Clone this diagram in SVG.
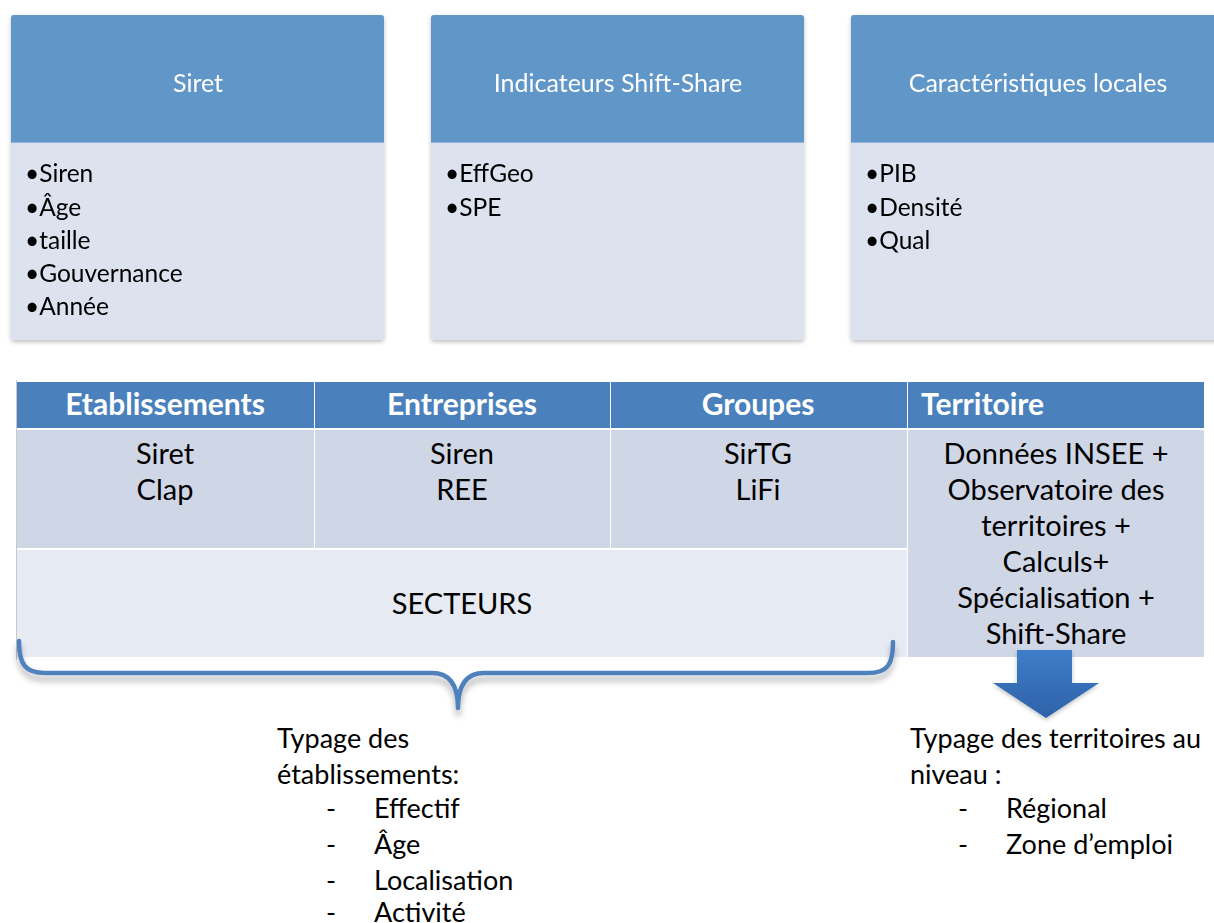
<svg xmlns="http://www.w3.org/2000/svg" width="1214" height="923" viewBox="0 0 1214 923">
<defs>
<style>
.hdr{fill:#6096C8}
.body{fill:#DCE2EE}
.ht{font-family:Lato,"Open Sans",sans-serif;font-size:25px;fill:#ffffff;text-anchor:middle}
.bl{font-family:Lato,"Open Sans",sans-serif;font-size:24.5px;fill:#000000}
.th{fill:#4A81BD}
.td{fill:#CFD7E7}
.ts{fill:#E6EAF3}
.tht{font-family:Lato,"Open Sans",sans-serif;font-size:30px;font-weight:bold;fill:#ffffff;text-anchor:middle}
.tdt{font-family:Lato,"Open Sans",sans-serif;font-size:29px;fill:#000000;text-anchor:middle}
.tx{font-family:Lato,"Open Sans",sans-serif;font-size:27px;fill:#000000}
</style>
<filter id="sh" x="-10%" y="-10%" width="120%" height="130%">
<feGaussianBlur in="SourceAlpha" stdDeviation="2"/>
<feOffset dx="0" dy="2"/>
<feComponentTransfer><feFuncA type="linear" slope="0.25"/></feComponentTransfer>
<feMerge><feMergeNode/><feMergeNode in="SourceGraphic"/></feMerge>
</filter>
<filter id="bsh" x="-5%" y="-50%" width="110%" height="250%">
<feGaussianBlur in="SourceAlpha" stdDeviation="3"/>
<feOffset dx="0" dy="6"/>
<feComponentTransfer><feFuncA type="linear" slope="0.3"/></feComponentTransfer>
<feMerge><feMergeNode/><feMergeNode in="SourceGraphic"/></feMerge>
</filter>
<linearGradient id="ag" x1="0" y1="0" x2="0" y2="1">
<stop offset="0" stop-color="#3F7DC9"/>
<stop offset="1" stop-color="#2E62A8"/>
</linearGradient>
</defs>
<rect width="1214" height="923" fill="#ffffff"/>

<g id="box-siret" filter="url(#sh)">
<rect class="body" x="11" y="15" width="373" height="325" rx="3"/>
<path class="hdr" d="M14,15 H381 A3,3 0 0 1 384,18 V142 H11 V18 A3,3 0 0 1 14,15 Z"/>
<line x1="11" y1="142.5" x2="384" y2="142.5" stroke="#8FB3DB" stroke-width="1"/>
<text class="ht" x="198" y="92">Siret</text>
<text class="bl" x="25" y="182">•Siren</text>
<text class="bl" x="25" y="216">•Âge</text>
<text class="bl" x="25" y="249">•taille</text>
<text class="bl" x="25" y="282">•Gouvernance</text>
<text class="bl" x="25" y="315">•Année</text>
</g>

<g id="box-shiftshare" filter="url(#sh)">
<rect class="body" x="431" y="15" width="373" height="325" rx="3"/>
<path class="hdr" d="M434,15 H801 A3,3 0 0 1 804,18 V142 H431 V18 A3,3 0 0 1 434,15 Z"/>
<line x1="431" y1="142.5" x2="804" y2="142.5" stroke="#8FB3DB" stroke-width="1"/>
<text class="ht" x="618" y="92">Indicateurs Shift-Share</text>
<text class="bl" x="445" y="182">•EffGeo</text>
<text class="bl" x="445" y="216">•SPE</text>
</g>

<g id="box-locales" filter="url(#sh)">
<rect class="body" x="851" y="15" width="370" height="325" rx="3"/>
<path class="hdr" d="M854,15 H1221 V142 H851 V18 A3,3 0 0 1 854,15 Z"/>
<line x1="851" y1="142.5" x2="1214" y2="142.5" stroke="#8FB3DB" stroke-width="1"/>
<text class="ht" x="1038" y="92">Caractéristiques locales</text>
<text class="bl" x="865" y="182">•PIB</text>
<text class="bl" x="865" y="216">•Densité</text>
<text class="bl" x="865" y="249">•Qual</text>
</g>

<g id="table">
<line x1="16.5" y1="380" x2="16.5" y2="660" stroke="#C8C8C8" stroke-width="1"/>
<g id="col-etablissements">
<rect class="th" x="17" y="382" width="297" height="46"/>
<rect class="td" x="17" y="430" width="297" height="118"/>
<text class="tht" x="165" y="415">Etablissements</text>
<text class="tdt" x="165" y="464">Siret</text>
<text class="tdt" x="165" y="500">Clap</text>
</g>
<g id="col-entreprises">
<rect class="th" x="315" y="382" width="295" height="46"/>
<rect class="td" x="315" y="430" width="295" height="118"/>
<text class="tht" x="462" y="415">Entreprises</text>
<text class="tdt" x="462" y="464">Siren</text>
<text class="tdt" x="462" y="500">REE</text>
</g>
<g id="col-groupes">
<rect class="th" x="611" y="382" width="296" height="46"/>
<rect class="td" x="611" y="430" width="296" height="118"/>
<text class="tht" x="758" y="415">Groupes</text>
<text class="tdt" x="758" y="464">SirTG</text>
<text class="tdt" x="758" y="500">LiFi</text>
</g>
<g id="col-territoire">
<rect class="th" x="908" y="382" width="296" height="46"/>
<rect class="td" x="908" y="430" width="296" height="227"/>
<text class="tht" x="921" y="415" style="text-anchor:start">Territoire</text>
<text class="tdt" x="1056" y="464">Données INSEE +</text>
<text class="tdt" x="1056" y="500">Observatoire des</text>
<text class="tdt" x="1056" y="536">territoires +</text>
<text class="tdt" x="1056" y="572">Calculs+</text>
<text class="tdt" x="1056" y="608">Spécialisation +</text>
<text class="tdt" x="1056" y="644">Shift-Share</text>
</g>
<g id="row-secteurs">
<rect class="ts" x="17" y="550" width="890" height="107"/>
<text class="tdt" x="462" y="614">SECTEURS</text>
</g>
</g>

<g id="connectors">
<path id="brace" d="M19,641 C19,664 25,673 45,673 L432,673 C450,673 458,686 458,708 C458,686 466,673 484,673 L868,673 C888,673 893,664 893,642" fill="none" stroke="#4F81BD" stroke-width="4.5" stroke-linecap="round" stroke-linejoin="round" filter="url(#bsh)"/>
<path id="arrow" d="M1017,650 H1072 V683 H1099 L1046,718 L993,683 H1017 Z" fill="url(#ag)" filter="url(#sh)"/>
</g>

<g id="text-etablissements">
<text class="tx" x="277" y="748">Typage des</text>
<text class="tx" x="277" y="784">établissements:</text>
<text class="tx" x="326" y="818">-</text><text class="tx" x="374" y="818">Effectif</text>
<text class="tx" x="326" y="854">-</text><text class="tx" x="374" y="854">Âge</text>
<text class="tx" x="326" y="890">-</text><text class="tx" x="374" y="890">Localisation</text>
<text class="tx" x="326" y="922">-</text><text class="tx" x="374" y="922">Activité</text>
</g>

<g id="text-territoires">
<text class="tx" x="910" y="748">Typage des territoires au</text>
<text class="tx" x="910" y="784">niveau :</text>
<text class="tx" x="958" y="818">-</text><text class="tx" x="1006" y="818">Régional</text>
<text class="tx" x="958" y="854">-</text><text class="tx" x="1006" y="854">Zone d’emploi</text>
</g>
</svg>
